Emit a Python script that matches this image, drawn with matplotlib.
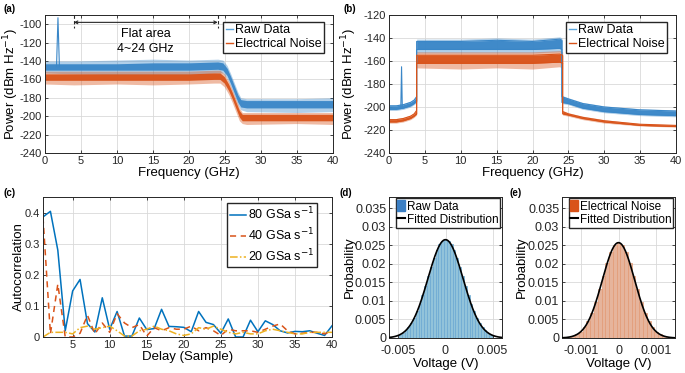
"""Five-panel figure: PSD of raw data / electrical noise, autocorrelation, histograms."""

import matplotlib
matplotlib.use("Agg")
import matplotlib.pyplot as plt
import numpy as np
from matplotlib.patches import Patch
from matplotlib.lines import Line2D

# ---------------- data ----------------
# (a) spectrum bands: frequency knots (GHz) with inner/outer envelopes (dBm/Hz)
a_raw_f = [0, 4, 10, 15, 20, 24, 24.7, 25.3, 25.8, 26.3, 26.8, 27.2, 28, 35, 40]
a_raw_core_hi = [-143, -143, -143, -142, -142, -141, -142, -148, -157, -167, -177, -182, -183, -183, -183]
a_raw_core_lo = [-150, -150, -150, -150, -150, -149, -150, -156, -165, -175, -185, -190, -191, -191, -191]
a_raw_out_hi = [-140, -140, -139, -138, -139, -138, -139, -145, -154, -164, -174, -180, -181, -181, -180]
a_raw_out_lo = [-153, -154, -155, -155, -155, -153, -153, -159, -168, -178, -188, -193, -195, -196, -195]
a_spike_f = [1.6, 1.8, 2.0]
a_spike_p = [-146, -93, -146]

a_ele_f = [0, 4, 10, 15, 20, 23.5, 24.3, 24.9, 25.5, 26.0, 26.5, 27.0, 27.4, 28, 35, 40]
a_ele_core_hi = [-154, -154, -154, -154, -154, -153, -153, -157, -165, -174, -184, -194, -198, -198, -198, -198]
a_ele_core_lo = [-161, -161, -161, -161, -161, -160, -160, -164, -172, -181, -191, -201, -205, -205, -205, -205]
a_ele_out_hi = [-151, -151, -151, -151, -151, -150, -150, -154, -162, -171, -181, -191, -196, -196, -196, -196]
a_ele_out_lo = [-165, -166, -165, -166, -165, -164, -164, -168, -176, -185, -195, -205, -208, -209, -208, -209]

# (b) spectrum after filtering (repeated knot = vertical edge)
b_raw_f = [0, 1, 2, 3, 3.5, 3.85, 3.85, 10, 15, 20, 23.8, 24.1, 24.1, 25, 27, 30, 35, 40]
b_raw_core_hi = [-199, -199, -198, -196, -194, -191, -143, -143, -142, -143, -141, -142, -191, -193, -197, -200, -202.5, -203.5]
b_raw_core_lo = [-202, -202, -201, -199, -197, -195, -150, -150, -150, -150, -149, -150, -196, -197, -201, -204, -206.5, -207.5]
b_raw_out_hi = [-198, -198, -197, -195, -193, -190, -141, -141, -140, -141, -139, -140, -190, -192, -196, -199, -201.5, -202.5]
b_raw_out_lo = [-203, -203, -202, -200, -198, -196, -153, -153, -153, -153, -152, -153, -197, -198, -202, -205, -207.5, -208.5]
b_spike_f = [1.65, 1.75, 1.85]
b_spike_p = [-199, -165, -199]

b_ele_f = [0, 1, 2, 3, 3.5, 3.85, 3.85, 10, 15, 20, 23.8, 24.2, 24.2, 25, 27, 30, 35, 40]
b_ele_core_hi = [-211, -211, -210, -208, -206, -203, -155, -155, -155, -155, -154, -155, -204, -206, -209, -212, -215, -216]
b_ele_core_lo = [-213, -213, -212, -210, -208, -206, -162, -162, -162, -162, -161, -162, -206, -207, -210, -213, -216, -217]
b_ele_out_hi = [-210, -210, -209, -207, -205, -202, -152, -152, -152, -152, -151, -152, -203, -205, -208, -211, -214.5, -215.5]
b_ele_out_lo = [-214, -214, -213, -211, -209, -207, -166, -167, -166, -167, -165, -167, -207, -208, -211, -214, -216.5, -217.5]

# (c) autocorrelation vs delay
delay = list(range(1, 41))
acf_80 = [0.386, 0.404, 0.279, 0.02, 0.148, 0.185, 0.043, 0.016, 0.126, 0.025,
          0.082, 0.003, 0.003, 0.061, 0.024, 0.027, 0.089, 0.034, 0.033, 0.031,
          0.017, 0.082, 0.047, 0.04, 0.012, 0.058, 0.0, 0.0, 0.054, 0.017,
          0.052, 0.04, 0.02, 0.013, 0.018, 0.017, 0.02, 0.012, 0.005, 0.036]
acf_40 = [0.385, 0.01, 0.17, 0.0, 0.0, 0.012, 0.07, 0.01, 0.045, 0.015,
          0.075, 0.045, 0.03, 0.04, 0.003, 0.03, 0.02, 0.03, 0.025, 0.025,
          0.035, 0.02, 0.03, 0.02, 0.005, 0.025, 0.02, 0.02, 0.02, 0.015,
          0.025, 0.035, 0.042, 0.02, 0.01, 0.012, 0.015, 0.015, 0.01, 0.02]
acf_20 = [0.0, 0.015, 0.015, 0.015, 0.01, 0.03, 0.035, 0.025, 0.03, 0.035,
          0.02, 0.003, 0.003, 0.02, 0.025, 0.035, 0.025, 0.02, 0.01, 0.005,
          0.01, 0.03, 0.025, 0.035, 0.025, 0.015, 0.01, 0.015, 0.01, 0.01,
          0.02, 0.025, 0.02, 0.015, 0.01, 0.01, 0.015, 0.015, 0.015, 0.015]
acf_labels = ["80 GSa s$^{-1}$", "40 GSa s$^{-1}$", "20 GSa s$^{-1}$"]

# (d) raw data histogram and fitted normal (mu, sigma, peak)
d_bins = [-0.0048, -0.0045, -0.0042, -0.0039, -0.0036, -0.0033, -0.0030, -0.0027,
          -0.0024, -0.0021, -0.0018, -0.0015, -0.0012, -0.0009, -0.0006, -0.0003,
          0.0, 0.0003, 0.0006, 0.0009, 0.0012, 0.0015, 0.0018, 0.0021, 0.0024,
          0.0027, 0.0030, 0.0033, 0.0036, 0.0039, 0.0042, 0.0045, 0.0048]
d_prob = [0.0009, 0.0014, 0.0021, 0.0029, 0.0041, 0.0055, 0.0072, 0.0092,
          0.0115, 0.0140, 0.0166, 0.0192, 0.0215, 0.0236, 0.0252, 0.0262,
          0.0265, 0.0262, 0.0252, 0.0236, 0.0215, 0.0192, 0.0166, 0.0140, 0.0115,
          0.0092, 0.0072, 0.0055, 0.0041, 0.0029, 0.0021, 0.0014, 0.0009]
d_fit = [0.0, 0.00186, 0.0265]

# (e) electrical noise histogram and fitted normal
e_bins = [-0.0014, -0.0013, -0.0012, -0.0011, -0.0010, -0.0009, -0.0008, -0.0007,
          -0.0006, -0.0005, -0.0004, -0.0003, -0.0002, -0.0001, 0.0, 0.0001,
          0.0002, 0.0003, 0.0004, 0.0005, 0.0006, 0.0007, 0.0008, 0.0009,
          0.0010, 0.0011, 0.0012, 0.0013, 0.0014]
e_prob = [0.00013, 0.00027, 0.00052, 0.00097, 0.0017, 0.0029, 0.0046, 0.0068,
          0.0097, 0.0131, 0.0167, 0.0202, 0.0231, 0.0250, 0.0257, 0.0250,
          0.0231, 0.0202, 0.0167, 0.0131, 0.0097, 0.0068, 0.0046, 0.0029,
          0.0017, 0.00097, 0.00052, 0.00027, 0.00013]
e_fit = [0.0, 0.00043, 0.0257]

# ---------------- styling ----------------
BLUE = "#0072BD"
SPEC_BLUE = "#3a87c8"
RED = "#D95319"
YEL = "#EDB120"
plt.rcParams.update({
    "font.family": ["Liberation Sans", "DejaVu Sans"],
    "font.size": 8,
    "axes.unicode_minus": False,
    "axes.linewidth": 0.7,
    "axes.edgecolor": "#262626",
    "xtick.direction": "in",
    "ytick.direction": "in",
    "xtick.top": True,
    "ytick.right": True,
    "xtick.major.size": 2.5,
    "ytick.major.size": 2.5,
    "xtick.major.width": 0.6,
    "ytick.major.width": 0.6,
    "xtick.labelsize": 8,
    "ytick.labelsize": 8,
    "axes.labelsize": 9.5,
    "legend.fontsize": 8.5,
})

W, H = 685, 373
fig = plt.figure(figsize=(W / 100, H / 100), dpi=100)


def px_axes(left, top, right, bottom):
    return fig.add_axes([left / W, 1 - bottom / H, (right - left) / W, (bottom - top) / H])


def style(ax, ylab_x):
    ax.grid(True, color="#d9d9d9", linewidth=0.6)
    ax.set_axisbelow(True)
    ax.tick_params(colors="#262626", pad=2)
    ax.yaxis.set_label_coords(ylab_x, 0.5)


def band(ax, f, out_lo, out_hi, core_lo, core_hi, color, edges=False):
    ax.fill_between(f, out_lo, out_hi, color=color, alpha=0.4, linewidth=0)
    ax.fill_between(f, core_lo, core_hi, color=color, alpha=0.95, linewidth=0)
    if edges:
        ax.plot(f, core_lo, color=color, lw=0.8)
        ax.plot(f, core_hi, color=color, lw=0.8)


def spectrum_legend(ax, anchor):
    handles = [Line2D([], [], color="#5aa5dc", lw=1.0), Line2D([], [], color=RED, lw=1.0)]
    ax.legend(handles, ["Raw Data", "Electrical Noise"], loc="upper right",
              bbox_to_anchor=anchor, fancybox=False, edgecolor="#262626",
              framealpha=1, handlelength=0.6, handletextpad=0.1,
              borderpad=0.2, labelspacing=0.15, borderaxespad=0, fontsize=9)


# (a)
ax = px_axes(45, 15, 333, 153)
band(ax, a_raw_f, a_raw_out_lo, a_raw_out_hi, a_raw_core_lo, a_raw_core_hi, SPEC_BLUE)
ax.plot(a_spike_f, a_spike_p, color=SPEC_BLUE, lw=0.8)
band(ax, a_ele_f, a_ele_out_lo, a_ele_out_hi, a_ele_core_lo, a_ele_core_hi, RED)
ax.set_xlim(0, 40)
ax.set_ylim(-240, -90)
ax.set_xticks(range(0, 41, 5))
ax.set_yticks(range(-240, -99, 20))
ax.set_xlabel("Frequency (GHz)", labelpad=1)
ax.set_ylabel("Power (dBm Hz$^{-1}$)")
ax.plot([4, 4], [-90, -104], color="#262626", ls=(0, (3, 2)), lw=0.8)
ax.plot([24, 24], [-90, -104], color="#262626", ls=(0, (3, 2)), lw=0.8)
ax.annotate("", xy=(4, -98), xytext=(24, -98),
            arrowprops=dict(arrowstyle="<->", color="#262626", lw=0.8,
                            shrinkA=0, shrinkB=0, mutation_scale=5))
ax.text(14, -111, "Flat area", ha="center", va="center", fontsize=9)
ax.text(14, -127, "4~24 GHz", ha="center", va="center", fontsize=9)
spectrum_legend(ax, (0.968, 0.95))
style(ax, -0.082)

# (b)
ax = px_axes(389, 15, 676, 153)
band(ax, b_raw_f, b_raw_out_lo, b_raw_out_hi, b_raw_core_lo, b_raw_core_hi, SPEC_BLUE, edges=True)
ax.plot(b_spike_f, b_spike_p, color=SPEC_BLUE, lw=0.8)
band(ax, b_ele_f, b_ele_out_lo, b_ele_out_hi, b_ele_core_lo, b_ele_core_hi, RED, edges=True)
ax.set_xlim(0, 40)
ax.set_ylim(-240, -120)
ax.set_xticks(range(0, 41, 5))
ax.set_yticks(range(-240, -119, 20))
ax.set_xlabel("Frequency (GHz)", labelpad=1)
ax.set_ylabel("Power (dBm Hz$^{-1}$)")
spectrum_legend(ax, (0.968, 0.95))
style(ax, -0.105)

# (c)
ax = px_axes(43, 197, 332, 337)
ax.plot(delay, acf_80, color=BLUE, lw=1.1, label=acf_labels[0])
ax.plot(delay, acf_40, color=RED, lw=1.1, ls=(0, (4, 3)), label=acf_labels[1])
ax.plot(delay, acf_20, color=YEL, lw=1.1, ls=(0, (5, 1.5, 1, 1.5)), label=acf_labels[2])
ax.set_xlim(1, 40)
ax.set_ylim(0, 0.45)
ax.set_xticks(range(5, 41, 5))
ax.set_yticks([0, 0.1, 0.2, 0.3, 0.4])
ax.set_yticklabels(["0", "0.1", "0.2", "0.3", "0.4"])
ax.set_xlabel("Delay (Sample)", labelpad=1)
ax.set_ylabel("Autocorrelation")
ax.legend(loc="upper right", bbox_to_anchor=(0.948, 0.96), fancybox=False,
          edgecolor="#262626", framealpha=1, handlelength=1.3, handletextpad=0.1,
          borderpad=0.25, labelspacing=0.35, borderaxespad=0, fontsize=9)
style(ax, -0.062)


def hist_panel(box, bins, prob, fit, width, face, edge, patch_color, label, xlim, xticks, ylab_x):
    ax = px_axes(*box)
    ax.bar(bins, prob, width=width, color=face, edgecolor=edge, linewidth=0.5, zorder=2)
    mu, sigma, peak = fit
    xs = np.linspace(xlim[0], xlim[1], 400)
    ax.plot(xs, peak * np.exp(-0.5 * ((xs - mu) / sigma) ** 2), color="k", lw=1.2, zorder=3)
    ax.set_xlim(*xlim)
    ax.set_ylim(0, 0.038)
    yt = [0, 0.005, 0.01, 0.015, 0.02, 0.025, 0.03, 0.035]
    ax.set_yticks(yt)
    ax.set_yticklabels([f"{v:g}" for v in yt])
    ax.set_xticks(xticks)
    ax.set_xticklabels([f"{v:g}" for v in xticks])
    ax.set_xlabel("Voltage (V)", labelpad=1)
    ax.set_ylabel("Probability")
    handles = [Patch(color=patch_color), Line2D([], [], color="k", lw=1.5)]
    ax.legend(handles, [label, "Fitted Distribution"], loc="upper right",
              bbox_to_anchor=(0.985, 0.99), fancybox=False, edgecolor="#262626",
              framealpha=1, handlelength=0.6, handleheight=1.0, handletextpad=0.2,
              borderpad=0.15, labelspacing=0.1, borderaxespad=0, fontsize=8.5)
    style(ax, ylab_x)
    ax.tick_params(labelsize=9)
    ax.tick_params(axis="x", pad=5)
    return ax


hist_panel((389, 197, 502, 338), d_bins, d_prob, d_fit, 0.0003,
           "#92c3da", "#6aa8d2", "#3b7fc4", "Raw Data", (-0.006, 0.006), [-0.005, 0, 0.005], -0.29)
hist_panel((562, 197, 675, 338), e_bins, e_prob, e_fit, 0.0001,
           "#e6b49c", "#e29a74", RED, "Electrical Noise", (-0.0015, 0.0015), [-0.001, 0, 0.001], -0.30)

# panel letters
for x, y, s in [(3, 9, "(a)"), (343, 9, "(b)"), (3, 193, "(c)"), (340, 193, "(d)"), (509, 193, "(e)")]:
    fig.text(x / W, 1 - y / H, s, fontsize=7, fontweight="bold", va="center", ha="left")

fig.savefig("out.png", dpi=100)
